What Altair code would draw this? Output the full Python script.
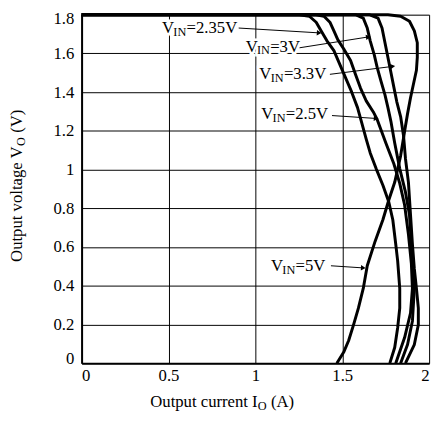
import altair as alt
import pandas as pd

# ---- curve data (output current A, output voltage V) ----
series_names = ["2.35V", "2.5V", "3V", "3.3V", "5V"]

i_235 = [0, 1.254, 1.311, 1.350, 1.379, 1.412, 1.452, 1.486, 1.520, 1.554, 1.588, 1.610, 1.638,
         1.661, 1.695, 1.734, 1.768, 1.791, 1.808, 1.819, 1.831, 1.831, 1.819, 1.802, 1.774]
v_235 = [1.80, 1.80, 1.792, 1.761, 1.716, 1.665, 1.614, 1.543, 1.472, 1.401, 1.320, 1.249, 1.157,
         1.086, 1.005, 0.919, 0.832, 0.741, 0.614, 0.528, 0.386, 0.284, 0.183, 0.081, 0]

i_25 = [0, 1.350, 1.395, 1.429, 1.452, 1.475, 1.508, 1.548, 1.576, 1.605, 1.638, 1.678, 1.701,
        1.751, 1.797, 1.831, 1.859, 1.881, 1.898, 1.904, 1.893, 1.859, 1.808]
v_25 = [1.80, 1.80, 1.792, 1.761, 1.716, 1.670, 1.624, 1.563, 1.492, 1.421, 1.355, 1.299, 1.259,
        1.137, 1.030, 0.929, 0.817, 0.665, 0.513, 0.386, 0.259, 0.132, 0]

i_3 = [0, 1.576, 1.621, 1.644, 1.661, 1.684, 1.701, 1.723, 1.746, 1.763, 1.780, 1.802, 1.831,
       1.864, 1.887, 1.898, 1.910, 1.915, 1.904, 1.876, 1.836]
v_3 = [1.80, 1.80, 1.782, 1.731, 1.665, 1.594, 1.528, 1.457, 1.386, 1.320, 1.249, 1.137, 1.005,
       0.883, 0.766, 0.614, 0.487, 0.386, 0.218, 0.096, 0]

i_33 = [0, 1.655, 1.706, 1.729, 1.746, 1.763, 1.780, 1.797, 1.814, 1.836, 1.853, 1.864, 1.881,
        1.893, 1.904, 1.915, 1.927, 1.938, 1.938, 1.915, 1.864]
v_33 = [1.80, 1.80, 1.782, 1.731, 1.655, 1.579, 1.503, 1.426, 1.350, 1.274, 1.173, 1.056, 0.934,
        0.766, 0.614, 0.487, 0.386, 0.284, 0.198, 0.096, 0]

i_5 = [0, 1.763, 1.836, 1.887, 1.915, 1.932, 1.932, 1.927, 1.910, 1.893, 1.876, 1.859, 1.836,
       1.802, 1.768, 1.734, 1.689, 1.644, 1.621, 1.593, 1.565, 1.537, 1.508, 1.469]
v_5 = [1.80, 1.80, 1.792, 1.766, 1.716, 1.655, 1.579, 1.513, 1.442, 1.371, 1.289, 1.198, 1.071,
       0.934, 0.843, 0.741, 0.629, 0.503, 0.386, 0.284, 0.198, 0.117, 0.056, 0]

x_ticks = [0, 0.5, 1, 1.5, 2]
y_ticks = [0, 0.2, 0.4, 0.6, 0.8, 1.0, 1.2, 1.4, 1.6, 1.8]

# ---- annotation data ----
label_rest = ["=2.35V", "=3V", "=3.3V", "=2.5V", "=5V"]
label_x = [0.463, 0.944, 1.023, 1.034, 1.090]
label_y = [1.731, 1.635, 1.492, 1.284, 0.503]
arrow_x1 = [0.904, 1.254, 1.429, 1.441, 1.435]
arrow_y1 = [1.731, 1.629, 1.492, 1.279, 0.503]
arrow_x2 = [1.367, 1.650, 1.791, 1.695, 1.621]
arrow_y2 = [1.706, 1.685, 1.533, 1.264, 0.492]
arrow_angle = [3.5, 351, 353, 4, 3.5]

FONT = "Liberation Serif"

rows = []
for name, xs, ys in zip(series_names, [i_235, i_25, i_3, i_33, i_5], [v_235, v_25, v_3, v_33, v_5]):
    for k, (a, b) in enumerate(zip(xs, ys)):
        rows.append({"series": name, "idx": k, "current": a, "voltage": b})
df = pd.DataFrame(rows)

ann = pd.DataFrame({"lx": label_x, "ly": label_y, "rest": label_rest,
                    "x1": arrow_x1, "y1": arrow_y1, "x2": arrow_x2, "y2": arrow_y2,
                    "ang": arrow_angle})

xsc = alt.Scale(domain=[0, 2], nice=False, zero=False)
ysc = alt.Scale(domain=[0, 1.8], nice=False, zero=False)

base_axis = dict(grid=True, gridColor="black", gridWidth=1, gridOpacity=1, ticks=False,
                 domainColor="black", domainWidth=2, labelFont=FONT, labelFontSize=17,
                 labelColor="black", title=None, format=".1~f")
XAX = alt.Axis(values=x_ticks, labelPadding=5, **base_axis)
YAX = alt.Axis(values=y_ticks, labelPadding=8,
               labelOffset={"condition": [{"test": "datum.value >= 1.75", "value": 4},
                                          {"test": "datum.value <= 0.05", "value": -5}],
                            "value": 0},
               **base_axis)

def X(f):
    return alt.X(f, type="quantitative", scale=xsc, axis=XAX)

def Y(f):
    return alt.Y(f, type="quantitative", scale=ysc, axis=YAX)

lines = alt.Chart(df).mark_line(color="black", strokeWidth=3, strokeJoin="round").encode(
    x=X("current"), y=Y("voltage"), detail="series:N", order="idx:Q")

arrows = alt.Chart(ann).mark_rule(color="black", strokeWidth=1).encode(
    x=X("x1"), y=Y("y1"), x2="x2:Q", y2="y2:Q")

heads = alt.Chart(ann).mark_point(shape="triangle-right", filled=True, color="black",
                                  size=30, opacity=1).encode(
    x=X("x2"), y=Y("y2"), angle=alt.Angle("ang:Q", scale=None))

def txt(field_text, dx, dy, size, halo):
    kw = dict(align="left", baseline="middle", font=FONT, fontSize=size, dx=dx, dy=dy)
    if halo:
        m = alt.Chart(ann).mark_text(stroke="white", strokeWidth=5, color="white", **kw)
    else:
        m = alt.Chart(ann).mark_text(color="black", **kw)
    return m.encode(x=X("lx"), y=Y("ly"), text=field_text)

label_layers = []
for halo in (True, False):
    label_layers.append(txt(alt.value("V"), 0, 0, 17, halo))
    label_layers.append(txt(alt.value("IN"), 11.5, 4, 12.5, halo))
    label_layers.append(txt("rest:N", 25, 0, 17, halo))

# ---- axis titles with subscripts ----
xt = pd.DataFrame({"x": [0.395], "y": [-0.203]})
yt = pd.DataFrame({"x": [-0.373], "y": [0.523]})

def title_piece(d, text, dx, dy, size, angle):
    return alt.Chart(d).mark_text(align="left", baseline="middle", font=FONT, fontSize=size,
                                  color="black", dx=dx, dy=dy, angle=angle).encode(
        x=X("x"), y=Y("y"), text=alt.value(text))

titles = [
    title_piece(xt, "Output current I", 0, 0, 17, 0),
    title_piece(xt, "O", 109.5, 4, 12.5, 0),
    title_piece(xt, "(A)", 123, 0, 17, 0),
    title_piece(yt, "Output voltage V", 0, 0, 17, 270),
    title_piece(yt, "O", 118, 4, 12.5, 270),
    title_piece(yt, "(V)", 131.5, 0, 17, 270),
]

chart = alt.layer(lines, arrows, heads, *label_layers, *titles).properties(
    width=354, height=355,
    autosize=alt.AutoSizeParams(type="none"),
    padding={"left": 75, "top": 3, "right": 6, "bottom": 49},
).configure_view(stroke="black", strokeWidth=1.5).configure(background="white")

chart.save("out.html", embed_options={"renderer": "svg", "actions": False})
